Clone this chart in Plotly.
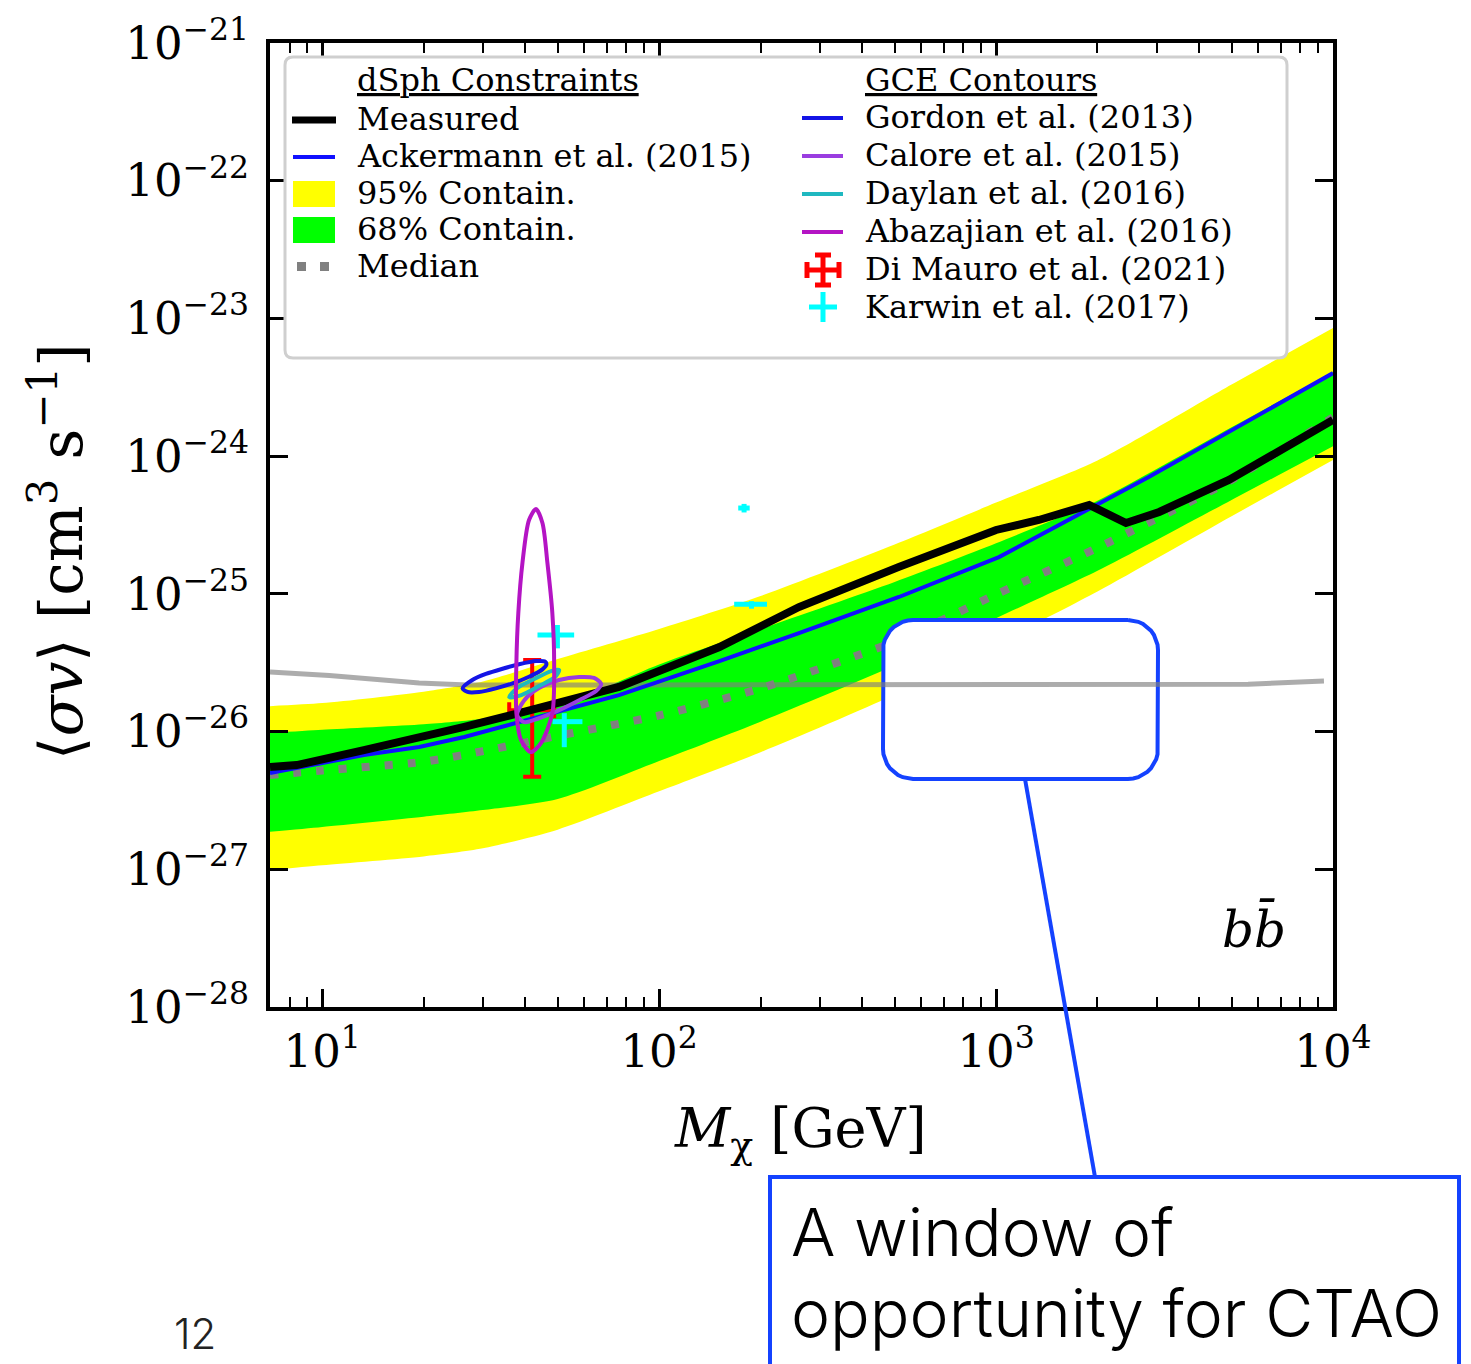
import numpy as np
import plotly.graph_objects as go

# ---------------- data ----------------
mass_band = [7, 10, 20, 30, 50, 100, 200, 500, 1000, 2000, 5000, 10000]
band95_lo = [9.88e-28, 1.07e-27, 1.24e-27, 1.42e-27, 1.94e-27, 3.68e-27, 7.08e-27,
             1.85e-26, 4.35e-26, 1.04e-25, 3.66e-25, 9.37e-25]
band95_hi = [1.53e-26, 1.61e-26, 1.95e-26, 2.31e-26, 3.36e-26, 5.55e-26, 9.64e-26,
             2.28e-25, 4.60e-25, 9.28e-25, 3.31e-24, 8.52e-24]
band68_lo = [1.87e-27, 2.03e-27, 2.41e-27, 2.69e-27, 3.24e-27, 6.11e-27, 1.18e-26,
             3.02e-26, 6.65e-26, 1.47e-25, 4.80e-25, 1.18e-24]
band68_hi = [9.76e-27, 1.03e-26, 1.13e-26, 1.24e-26, 1.53e-26, 3.07e-26, 5.55e-26,
             1.22e-25, 2.33e-25, 4.75e-25, 1.62e-24, 4.08e-24]
median_sv = [4.84e-27, 5.22e-27, 6.04e-27, 7.21e-27, 9.31e-27, 1.31e-26, 2.06e-26,
             4.51e-26, 9.91e-26, 2.16e-25, 6.72e-25, 1.91e-24]

mass_meas = [7, 8.4, 13.3, 19.4, 26.4, 38.4, 76, 151, 260, 515, 725, 1000, 1340,
             1890, 2430, 3050, 4910, 10000]
sv_meas = [5.53e-27, 5.71e-27, 7.34e-27, 8.98e-27, 1.08e-26, 1.36e-26, 2.11e-26,
           4.11e-26, 8.02e-26, 1.57e-25, 2.19e-25, 2.91e-25, 3.44e-25, 4.42e-25,
           3.27e-25, 3.93e-25, 6.71e-25, 1.83e-24]

mass_ack = [7, 13.3, 19.4, 26.4, 76, 151, 260, 515, 1020, 2020, 2840, 10000]
sv_ack = [5.0e-27, 6.75e-27, 7.72e-27, 9.13e-27, 1.84e-26, 3.25e-26, 5.19e-26,
          9.49e-26, 1.85e-25, 4.57e-25, 7.05e-25, 4.01e-24]

mass_gray = [7, 10.5, 19.4, 27, 66, 1000, 5600, 9400]
sv_gray = [2.71e-26, 2.55e-26, 2.25e-26, 2.18e-26, 2.18e-26, 2.21e-26, 2.21e-26, 2.33e-26]

gordon_m = [26.1, 27.9, 30.6, 34.3, 38.4, 43.1, 45.9, 46.3, 45.05, 41.1, 36.7, 32.75, 29.2, 27.0, 26.1]
gordon_sv = [2.06e-26, 2.37e-26, 2.62e-26, 2.86e-26, 3.08e-26, 3.25e-26, 3.22e-26, 3.08e-26,
             2.83e-26, 2.50e-26, 2.24e-26, 2.06e-26, 1.94e-26, 1.94e-26, 2.06e-26]

calore_m = [37.9, 39.8, 44.0, 50.5, 57.9, 64.1, 67.3, 65.0, 57.9, 50.5, 44.0, 39.8, 37.9]
calore_sv = [1.32e-26, 1.69e-26, 2.07e-26, 2.37e-26, 2.49e-26, 2.45e-26, 2.22e-26, 1.97e-26,
             1.69e-26, 1.43e-26, 1.25e-26, 1.17e-26, 1.32e-26]

daylan_m = [35.9, 37.9, 42.6, 47.8, 50.5, 49.1, 44.0, 39.0, 35.9]
daylan_sv = [1.78e-26, 2.07e-26, 2.41e-26, 2.75e-26, 2.80e-26, 2.49e-26, 2.14e-26, 1.84e-26, 1.78e-26]

abaz_m = [43.1, 41.1, 39.3, 38.2, 37.7, 37.7, 38.9, 41.6, 44.6, 48.2, 48.8, 48.2, 46.6, 45.05, 43.1]
abaz_sv = [4.13e-25, 3.44e-25, 1.68e-25, 7.26e-26, 3.15e-26, 1.36e-26, 8.68e-27, 7.10e-27,
           8.25e-27, 1.36e-26, 3.15e-26, 7.26e-26, 1.68e-25, 3.27e-25, 4.13e-25]

dimauro_m = [42.0]
dimauro_sv = [1.43e-26]
dimauro_m_plus = [6.8]
dimauro_m_minus = [6.1]
dimauro_sv_plus = [1.88e-26]
dimauro_sv_minus = [0.96e-26]

karwin_m = [49.9, 52.3, 178.7, 188.0]
karwin_sv = [5.02e-26, 1.18e-26, 4.2e-25, 8.4e-26]
karwin_m_plus = [6.05, 6.9, 7.0, 21.0]
karwin_m_minus = [6.35, 4.06, 7.0, 21.0]
karwin_sv_plus = [0.92e-26, 0.18e-26, 0.3e-25, 0.45e-26]
karwin_sv_minus = [1.0e-26, 0.41e-26, 0.3e-25, 0.6e-26]

x_tick_vals = [10, 100, 1000, 10000]
x_tick_text = ["10<sup>1</sup>", "10<sup>2</sup>", "10<sup>3</sup>", "10<sup>4</sup>"]
y_tick_vals = [1e-28, 1e-27, 1e-26, 1e-25, 1e-24, 1e-23, 1e-22, 1e-21]
y_tick_text = ["10<sup>\u221228</sup>", "10<sup>\u221227</sup>", "10<sup>\u221226</sup>",
               "10<sup>\u221225</sup>", "10<sup>\u221224</sup>", "10<sup>\u221223</sup>",
               "10<sup>\u221222</sup>", "10<sup>\u221221</sup>"]

# ---------------- layout geometry ----------------
FIG_W, FIG_H = 1471, 1364
PL, PR, PT, PB = 270, 1333, 43, 1007
XR = [np.log10(7.0), 4.0]
YR = [-28.0, -21.0]
SERIF = "DejaVu Serif"
SANS = "Inter, Liberation Sans"
BLUE_CALL = "#1442ff"
LEG_SIZE = 32


def fx(px):
    return (px - PL) / (PR - PL)


def fy(py):
    return (PB - py) / (PB - PT)


def px_to_data(px, py):
    lx = XR[0] + fx(px) * (XR[1] - XR[0])
    ly = YR[0] + fy(py) * (YR[1] - YR[0])
    return 10 ** lx, 10 ** ly


def rounded_path_paper(x0, y0, x1, y1, r):
    pts = [("M", [(x0 + r, y0)]), ("L", [(x1 - r, y0)]), ("Q", [(x1, y0), (x1, y0 + r)]),
           ("L", [(x1, y1 - r)]), ("Q", [(x1, y1), (x1 - r, y1)]), ("L", [(x0 + r, y1)]),
           ("Q", [(x0, y1), (x0, y1 - r)]), ("L", [(x0, y0 + r)]), ("Q", [(x0, y0), (x0 + r, y0)])]
    s = ""
    for cmd, ps in pts:
        s += cmd + " " + " ".join(f"{fx(a):.5f},{fy(b):.5f}" for a, b in ps) + " "
    return s + "Z"


fig = go.Figure()

band_line = dict(width=0, shape="spline", smoothing=0.7)
# bands
fig.add_trace(go.Scatter(x=mass_band, y=band95_lo, mode="lines", line=band_line, hoverinfo="skip"))
fig.add_trace(go.Scatter(x=mass_band, y=band95_hi, mode="lines", line=band_line,
                         fill="tonexty", fillcolor="#ffff00", name="95% Contain."))
fig.add_trace(go.Scatter(x=mass_band, y=band68_lo, mode="lines", line=band_line, hoverinfo="skip"))
fig.add_trace(go.Scatter(x=mass_band, y=band68_hi, mode="lines", line=band_line,
                         fill="tonexty", fillcolor="#00ff00", name="68% Contain."))
fig.add_trace(go.Scatter(x=mass_band, y=median_sv, mode="lines", name="Median",
                         line=dict(color="#808080", width=8, dash="8px,15px",
                                   shape="spline", smoothing=0.7)))

# call-out window box (white, rounded) - decoration drawn between the bands and the gray line
bx0, by0, bx1, by1, br = 883, 620, 1158, 779, 30
box_px = []
corners = [(bx1 - br, by0 + br, -90, 0), (bx1 - br, by1 - br, 0, 90),
           (bx0 + br, by1 - br, 90, 180), (bx0 + br, by0 + br, 180, 270)]
for cx, cy, a0, a1 in corners:
    for a in np.linspace(a0, a1, 10):
        t = np.radians(a)
        box_px.append((cx + br * np.cos(t), cy + br * np.sin(t)))
box_px.append(box_px[0])
box_data = [px_to_data(a, b) for a, b in box_px]
fig.add_trace(go.Scatter(x=[p[0] for p in box_data], y=[p[1] for p in box_data], mode="lines",
                         fill="toself", fillcolor="white", line=dict(color=BLUE_CALL, width=4),
                         hoverinfo="skip"))

fig.add_trace(go.Scatter(x=mass_gray, y=sv_gray, mode="lines",
                         line=dict(color="rgba(128,128,128,0.65)", width=5)))

# Karwin and Di Mauro points
fig.add_trace(go.Scatter(x=karwin_m, y=karwin_sv, mode="markers", name="Karwin et al. (2017)",
                         marker=dict(size=2, color="#00ffff"),
                         error_x=dict(type="data", symmetric=False, array=karwin_m_plus,
                                      arrayminus=karwin_m_minus, color="#00ffff", thickness=5, width=0),
                         error_y=dict(type="data", symmetric=False, array=karwin_sv_plus,
                                      arrayminus=karwin_sv_minus, color="#00ffff", thickness=5, width=0)))
fig.add_trace(go.Scatter(x=dimauro_m, y=dimauro_sv, mode="markers", name="Di Mauro et al. (2021)",
                         marker=dict(size=2, color="#ff0000"),
                         error_x=dict(type="data", symmetric=False, array=dimauro_m_plus,
                                      arrayminus=dimauro_m_minus, color="#ff0000", thickness=4, width=8),
                         error_y=dict(type="data", symmetric=False, array=dimauro_sv_plus,
                                      arrayminus=dimauro_sv_minus, color="#ff0000", thickness=4, width=9)))

fig.add_trace(go.Scatter(x=mass_ack, y=sv_ack, mode="lines", name="Ackermann et al. (2015)",
                         line=dict(color="#1010ff", width=4)))
fig.add_trace(go.Scatter(x=mass_meas, y=sv_meas, mode="lines", name="Measured",
                         line=dict(color="black", width=8)))

# GCE contours
for xs, ys, col, nm in [(gordon_m, gordon_sv, "#1414e6", "Gordon et al. (2013)"),
                        (calore_m, calore_sv, "#9a3de0", "Calore et al. (2015)"),
                        (daylan_m, daylan_sv, "#1fb8c0", "Daylan et al. (2016)"),
                        (abaz_m, abaz_sv, "#b414c4", "Abazajian et al. (2016)")]:
    fig.add_trace(go.Scatter(x=xs, y=ys, mode="lines", name=nm,
                             line=dict(color=col, width=4, shape="spline", smoothing=0.8)))

# ---------------- manual legend ----------------
shapes = []
annotations = []

shapes.append(dict(type="path", xref="paper", yref="paper", layer="above",
                   path=rounded_path_paper(285, 57, 1287, 358, 8),
                   line=dict(color="#cfcfcf", width=3), fillcolor="white"))


def leg_text(px, py, text, size=LEG_SIZE):
    annotations.append(dict(xref="paper", yref="paper", x=fx(px), y=fy(py), text=text,
                            showarrow=False, xanchor="left", yanchor="middle",
                            height=36, borderpad=0,
                            font=dict(family=SERIF, size=size, color="black")))


def leg_line(x0, x1, py, color, width):
    shapes.append(dict(type="line", xref="paper", yref="paper", layer="above",
                       x0=fx(x0), x1=fx(x1), y0=fy(py), y1=fy(py),
                       line=dict(color=color, width=width)))


def leg_rect(x0, x1, y0, y1, color):
    shapes.append(dict(type="rect", xref="paper", yref="paper", layer="above",
                       x0=fx(x0), x1=fx(x1), y0=fy(y0), y1=fy(y1),
                       line=dict(width=0), fillcolor=color))


def leg_vline(px, y0, y1, color, width):
    shapes.append(dict(type="line", xref="paper", yref="paper", layer="above",
                       x0=fx(px), x1=fx(px), y0=fy(y0), y1=fy(y1),
                       line=dict(color=color, width=width)))


leg_text(356, 80, "<u>dSph Constraints</u>")
leg_line(292, 336, 120, "black", 7)
leg_text(356, 119, "Measured")
leg_line(293, 335, 157, "#1010ff", 4)
leg_text(356, 156, "Ackermann et al. (2015)")
leg_rect(293, 335, 181, 207, "#ffff00")
leg_text(356, 193, "95% Contain.")
leg_rect(293, 335, 217, 243, "#00ff00")
leg_text(356, 229, "68% Contain.")
leg_rect(297, 306, 262, 271, "#808080")
leg_rect(320, 329, 262, 271, "#808080")
leg_text(356, 266, "Median")

leg_text(864, 80, "<u>GCE Contours</u>")
for py, col, txt in [(117, "#1414e6", "Gordon et al. (2013)"),
                     (155, "#9a3de0", "Calore et al. (2015)"),
                     (193, "#1fb8c0", "Daylan et al. (2016)"),
                     (231, "#b414c4", "Abazajian et al. (2016)")]:
    leg_line(802, 843, py + 1, col, 4)
    leg_text(864, py, txt)
# Di Mauro symbol (cross with caps)
cy, cx = 270, 823
leg_vline(cx, cy - 16, cy + 16, "#ff0000", 5)
leg_line(cx - 17, cx + 17, cy, "#ff0000", 5)
leg_line(cx - 8, cx + 8, cy - 15, "#ff0000", 5)
leg_line(cx - 8, cx + 8, cy + 15, "#ff0000", 5)
leg_vline(cx - 16, cy - 8, cy + 8, "#ff0000", 5)
leg_vline(cx + 16, cy - 8, cy + 8, "#ff0000", 5)
leg_text(864, 269, "Di Mauro et al. (2021)")
# Karwin symbol (plus)
cy = 307
leg_vline(cx, cy - 15, cy + 15, "#00ffff", 5)
leg_line(cx - 14, cx + 14, cy, "#00ffff", 5)
leg_text(864, 307, "Karwin et al. (2017)")

# channel label
annotations.append(dict(xref="paper", yref="paper", x=fx(1254), y=fy(928), text="<i>bb\u0304</i>",
                        showarrow=False, xanchor="center", yanchor="middle",
                        font=dict(family=SERIF, size=50, color="black")))

# axis titles
annotations.append(dict(xref="paper", yref="paper", x=fx(800), y=fy(1132),
                        text="<i>M</i><sub>\u03c7</sub> [GeV]", showarrow=False,
                        xanchor="center", yanchor="middle",
                        font=dict(family=SERIF, size=54, color="black")))
annotations.append(dict(xref="paper", yref="paper", x=fx(57), y=fy(552),
                        text="\u27e8<i>\u03c3v</i>\u27e9 [cm<sup>3</sup> s<sup>\u22121</sup>]",
                        showarrow=False, textangle=-90, xanchor="center", yanchor="middle",
                        font=dict(family=SERIF, size=60, color="black")))

# call-out connector and text box
shapes.append(dict(type="line", xref="paper", yref="paper", layer="above",
                   x0=fx(1025), y0=fy(779), x1=fx(1095), y1=fy(1177),
                   line=dict(color=BLUE_CALL, width=4)))
shapes.append(dict(type="rect", xref="paper", yref="paper", layer="above",
                   x0=fx(770), y0=fy(1177), x1=fx(1459), y1=fy(1380),
                   line=dict(color=BLUE_CALL, width=4), fillcolor="rgba(0,0,0,0)"))
annotations.append(dict(xref="paper", yref="paper", x=fx(789), y=fy(1232), text="A window of",
                        showarrow=False, xanchor="left", yanchor="middle",
                        font=dict(family=SANS, size=66, color="black", weight=300)))
annotations.append(dict(xref="paper", yref="paper", x=fx(789), y=fy(1313),
                        text="opportunity for CTAO", showarrow=False, xanchor="left",
                        yanchor="middle", font=dict(family=SANS, size=66, color="black", weight=300)))
annotations.append(dict(xref="paper", yref="paper", x=fx(195), y=fy(1333), text="12",
                        showarrow=False, xanchor="center", yanchor="middle",
                        font=dict(family=SANS, size=42, color="#222222", weight=300)))

minor_x = [k * 10 ** e for e in range(0, 4) for k in range(2, 10) if 7 <= k * 10 ** e <= 10000]

fig.update_layout(
    width=FIG_W, height=FIG_H, autosize=False,
    margin=dict(l=PL, r=FIG_W - PR, t=PT, b=FIG_H - PB, pad=0),
    paper_bgcolor="white", plot_bgcolor="white", showlegend=False,
    shapes=shapes, annotations=annotations,
    xaxis=dict(type="log", range=XR, showgrid=False, zeroline=False,
               showline=True, linecolor="black", linewidth=4, mirror="ticks",
               ticks="inside", ticklen=18, tickwidth=2.5, tickcolor="black",
               tickmode="array", tickvals=x_tick_vals, ticktext=x_tick_text,
               tickfont=dict(family=SERIF, size=45, color="black"), ticklabelstandoff=2,
               minor=dict(ticks="inside", ticklen=10, tickwidth=2, tickcolor="black",
                          tickmode="array", tickvals=minor_x, showgrid=False)),
    yaxis=dict(type="log", range=YR, showgrid=False, zeroline=False,
               showline=True, linecolor="black", linewidth=4, mirror="ticks",
               ticks="inside", ticklen=18, tickwidth=2.5, tickcolor="black",
               tickmode="array", tickvals=y_tick_vals, ticktext=y_tick_text,
               tickfont=dict(family=SERIF, size=45, color="black"), ticklabelstandoff=8),
)

fig.write_html("out.html", config={"displayModeBar": False},
               post_script="document.body.style.margin='0px';document.body.style.overflow='hidden';")
